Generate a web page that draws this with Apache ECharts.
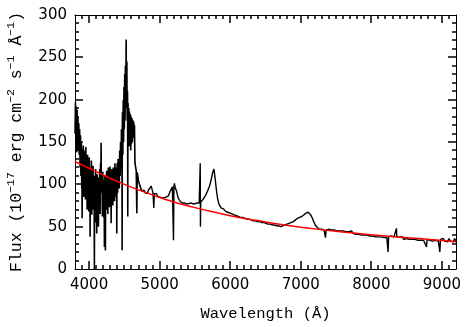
<!DOCTYPE html>
<html><head><meta charset="utf-8">
<script src="https://cdn.jsdelivr.net/npm/echarts@6/dist/echarts.min.js"></script>
<style>html,body{margin:0;padding:0;background:#fff}#c{width:469px;height:327px}</style>
</head><body><div id="c"></div>
<script>
// axis ranges and tick values
const xRange = [3800, 9200];
const yRange = [0, 300];
const xMajorTicks = [4000, 5000, 6000, 7000, 8000, 9000];
const xMinorTicks = [3900, 4100, 4200, 4300, 4400, 4500, 4600, 4700, 4800, 4900, 5100, 5200, 5300, 5400, 5500, 5600, 5700, 5800, 5900, 6100, 6200, 6300, 6400, 6500, 6600, 6700, 6800, 6900, 7100, 7200, 7300, 7400, 7500, 7600, 7700, 7800, 7900, 8100, 8200, 8300, 8400, 8500, 8600, 8700, 8800, 8900, 9100];
const yMajorTicks = [50, 100, 150, 200, 250];
const yMinorTicks = [10, 20, 30, 40, 60, 70, 80, 90, 110, 120, 130, 140, 160, 170, 180, 190, 210, 220, 230, 240, 260, 270, 280, 290];

// observed spectrum [wavelength Å, flux] — blue, noisy part
const specBlue = [[3800,160],[3806,197],[3812,150],[3818,192],[3824,138],[3830,188],[3836,145],[3842,180],[3848,140],[3854,172],[3860,135],[3866,165],[3872,120],[3878,158],[3884,110],[3890,150],[3896,95],[3901,60],[3906,142],[3912,98],[3918,146],[3924,85],[3930,138],[3936,100],[3942,140],[3948,82],[3954,144],[3960,92],[3966,130],[3972,70],[3978,135],[3984,96],[3990,125],[3996,68],[4002,132],[4008,88],[4014,38],[4020,120],[4026,75],[4032,128],[4038,64],[4044,115],[4050,90],[4056,122],[4062,70],[4068,110],[4075,0],[4080,105],[4086,55],[4092,118],[4098,62],[4104,100],[4108,42],[4114,112],[4120,70],[4126,95],[4132,50],[4138,108],[4144,80],[4150,118],[4156,65],[4162,125],[4170,149],[4176,90],[4182,110],[4188,62],[4194,115],[4200,75],[4206,105],[4211,60],[4217,26],[4222,110],[4231,22],[4236,100],[4242,70],[4248,116],[4254,78],[4260,110],[4266,65],[4272,120],[4278,90],[4284,115],[4290,73],[4296,121],[4302,85],[4308,110],[4312,54],[4318,118],[4324,90],[4330,112],[4336,75],[4342,120],[4348,95],[4354,115],[4360,80],[4366,125],[4372,95],[4378,120],[4384,85],[4390,118],[4392,42],[4398,125],[4404,90],[4410,130],[4416,100],[4422,128],[4428,95],[4434,140],[4440,110],[4446,150],[4452,115],[4458,165],[4463,125],[4468,22],[4473,185],[4478,135],[4484,200],[4489,150],[4494,215],[4499,165],[4504,230],[4509,175],[4514,240],[4519,190],[4525,271],[4530,205],[4535,245],[4540,175],[4544,210],[4548,62],[4552,196],[4557,150],[4562,190],[4567,145],[4572,186],[4578,150],[4584,183],[4590,140],[4596,180],[4602,148],[4608,178],[4614,150],[4620,176],[4626,155],[4632,174],[4638,160],[4643,170],[4650,125],[4660,120],[4668,116],[4676,66],[4682,114],[4690,110],[4700,104],[4714,100],[4726,97],[4738,94],[4750,92]];

// extra samples read inside the dense blue band
const specBlueFill = [[3803,175],[3809,182],[3815,165],[3821,170],[3827,160],[3833,150],[3839,168],[3845,152],[3851,160],[3857,148],[3863,150],[3869,140],[3875,135],[3881,130],[3887,125],[3893,132],[3899,110],[3904,120],[3909,115],[3915,122],[3921,105],[3927,118],[3933,112],[3939,120],[3945,108],[3951,115],[3957,102],[3963,118],[3969,98],[3975,110],[3981,104],[3987,112],[3993,95],[3999,105],[4005,100],[4011,110],[4017,92],[4023,104],[4029,96],[4035,110],[4041,88],[4047,100],[4053,106],[4059,92],[4065,98],[4071,85],[4077,92],[4083,88],[4089,100],[4095,82],[4101,95],[4106,78],[4111,90],[4117,98],[4123,84],[4129,92],[4135,76],[4141,98],[4147,100],[4153,92],[4159,104],[4165,96],[4173,110],[4179,100],[4185,92],[4191,96],[4197,90],[4203,92],[4209,84],[4214,80],[4220,95],[4226,88],[4234,82],[4239,90],[4245,96],[4251,88],[4257,95],[4263,90],[4269,100],[4275,104],[4281,98],[4287,92],[4293,100],[4299,108],[4305,98],[4310,95],[4315,100],[4321,104],[4327,100],[4333,94],[4339,102],[4345,108],[4351,104],[4357,100],[4363,108],[4369,110],[4375,106],[4381,104],[4387,110],[4395,112],[4401,108],[4407,115],[4413,118],[4419,110],[4425,120],[4431,125],[4437,128],[4443,132],[4449,138],[4455,140],[4461,150],[4466,150],[4470,160],[4476,165],[4481,175],[4487,170],[4492,185],[4497,190],[4502,195],[4507,200],[4512,205],[4517,215],[4522,230],[4527,240],[4532,225],[4537,210],[4542,195],[4546,190],[4550,175],[4555,170],[4560,165],[4565,170],[4570,165],[4575,168],[4581,165],[4587,162],[4593,160],[4599,165],[4605,162],[4611,165],[4617,160],[4623,165],[4629,162],[4635,168],[4641,165]];

// middle part
const specMid = [[4750,92],[4765,91],[4780,93],[4795,90],[4810,92],[4825,89],[4840,93],[4855,91],[4868,95],[4880,98],[4892,94],[4905,90],[4917,72],[4925,89],[4940,87],[4955,89],[4970,86],[4985,88],[5000,85],[5015,87],[5030,84],[5045,86],[5060,84],[5075,86],[5090,85],[5105,87],[5120,86],[5135,89],[5150,92],[5165,94],[5180,97],[5190,99],[5196,34],[5202,98],[5210,101],[5220,96],[5230,98],[5240,92],[5250,88],[5262,84],[5275,82],[5290,80],[5305,79],[5320,78],[5335,77],[5350,78],[5365,76],[5380,77],[5395,75],[5410,77],[5425,76],[5440,78],[5455,76],[5470,77],[5485,75],[5500,77],[5515,76],[5530,78],[5545,77],[5560,78],[5572,79],[5575,125],[5578,50],[5582,79],[5595,80],[5608,81],[5622,83],[5636,85],[5650,87],[5665,89],[5679,92],[5693,95],[5707,98],[5720,102],[5731,106],[5742,110],[5752,114],[5760,116],[5768,118],[5776,114],[5785,108],[5794,101],[5802,95],[5812,88],[5824,82],[5836,78],[5849,75],[5862,73],[5875,72],[5890,70],[5905,71],[5920,69],[5935,68],[5950,69],[5965,67],[5980,68],[5995,66]];

// red part
const specRed = [[6010,67],[6025,65],[6040,66],[6055,64],[6070,65],[6085,63],[6100,64],[6115,62],[6130,63],[6145,61],[6160,63],[6175,61],[6190,62],[6205,60],[6220,61],[6235,59],[6250,61],[6265,59],[6280,60],[6295,58],[6310,59],[6325,57],[6340,59],[6355,57],[6370,58],[6385,56],[6400,58],[6415,56],[6430,57],[6445,55],[6460,57],[6475,55],[6490,56],[6505,54],[6520,56],[6535,53],[6550,55],[6565,53],[6580,55],[6595,52],[6610,54],[6625,52],[6640,54],[6655,51],[6670,53],[6685,51],[6700,53],[6715,50],[6730,52],[6745,51],[6760,53],[6775,52],[6790,54],[6805,53],[6820,55],[6835,54],[6850,56],[6865,55],[6880,57],[6895,56],[6910,58],[6925,58],[6940,60],[6955,60],[6970,61],[6985,61],[7000,63],[7015,62],[7030,64],[7045,64],[7060,65],[7075,66],[7090,66],[7105,67],[7116,67],[7128,65],[7140,64],[7152,62],[7165,60],[7178,57],[7190,55],[7205,52],[7220,50],[7235,49],[7250,48],[7265,47],[7280,48],[7292,46],[7300,47],[7310,45],[7320,47],[7330,46],[7340,45],[7350,37],[7360,46],[7380,45],[7400,47],[7420,45],[7440,46],[7460,44],[7480,46],[7500,44],[7520,45],[7540,43],[7560,45],[7580,43],[7600,45],[7620,43],[7640,44],[7660,42],[7680,44],[7700,42],[7720,45],[7740,42],[7760,44],[7780,41],[7800,43],[7820,41],[7840,43],[7860,40],[7880,42],[7900,40],[7920,42],[7940,40],[7960,41],[7980,39],[8000,41],[8020,39],[8040,41],[8060,38],[8080,40],[8100,38],[8120,40],[8140,38],[8160,39],[8180,37],[8200,39],[8220,37],[8237,20],[8245,38],[8260,37],[8280,39],[8300,37],[8320,38],[8340,36],[8356,48],[8360,38],[8380,36],[8400,38],[8420,36],[8440,38],[8460,35],[8480,37],[8500,36],[8520,38],[8540,35],[8560,37],[8580,35],[8600,37],[8620,35],[8640,37],[8660,34],[8680,36],[8700,34],[8720,36],[8740,34],[8760,36],[8782,26],[8790,35],[8810,36],[8830,34],[8850,36],[8870,33],[8890,35],[8910,34],[8930,36],[8950,33],[8971,20],[8980,35],[9000,34],[9020,36],[9040,33],[9060,35],[9080,32],[9100,36],[9120,33],[9140,35],[9160,32],[9180,36],[9200,33]];

// continuum fit (red curve)
const continuumFit = [[3800,127],[4000,119],[4250,109],[4500,100],[4750,92],[5000,84.5],[5250,78],[5500,72.5],[5750,67.5],[6000,63],[6250,59],[6500,55.5],[6750,52.3],[7000,49.4],[7250,46.8],[7500,44.5],[7750,42.4],[8000,40.4],[8250,38.6],[8500,37],[8750,35.4],[9000,33.8],[9200,32.3]];

const spectrumBlue = specBlue.concat(specBlueFill).sort((a, b) => a[0] - b[0]);
const spectrumRest = specMid.concat(specRed);

// tick items: [x value, y value, length in px]
const MAJOR = 8, MINOR = 4;
const xTickData = xMajorTicks.map(v => [v, yRange[0], MAJOR]).concat(xMinorTicks.map(v => [v, yRange[0], MINOR]));
const yTickData = yMajorTicks.map(v => [xRange[0], v, MAJOR]).concat(yMinorTicks.map(v => [xRange[0], v, MINOR]));

function xTickItem(params, api) {
  const cs = params.coordSys;
  const len = api.value(2);
  const x = Math.round(api.coord([api.value(0), api.value(1)])[0]);
  const yb = cs.y + cs.height, yt = cs.y;
  return {type: 'group', children: [
    {type: 'rect', shape: {x: x - 0.5, y: yb - len, width: 1, height: len}, style: {fill: '#000'}},
    {type: 'rect', shape: {x: x - 0.5, y: yt, width: 1, height: len}, style: {fill: '#000'}}
  ]};
}
function yTickItem(params, api) {
  const cs = params.coordSys;
  const len = api.value(2);
  const y = Math.round(api.coord([api.value(0), api.value(1)])[1]);
  const xl = cs.x, xr = cs.x + cs.width;
  return {type: 'group', children: [
    {type: 'rect', shape: {x: xl, y: y - 0.5, width: len, height: 1}, style: {fill: '#000'}},
    {type: 'rect', shape: {x: xr - len, y: y - 0.5, width: len, height: 1}, style: {fill: '#000'}}
  ]};
}

const mono = 'Liberation Mono';
const blk = () => ({color: '#000', width: 1});

const chart = echarts.init(document.getElementById('c'), null, {renderer: 'canvas'});
chart.setOption({
  animation: false,
  backgroundColor: '#fff',
  grid: {left: 75, right: 13, top: 15, bottom: 58, containLabel: false, outerBoundsMode: 'none'},
  xAxis: [
    {type: 'value', position: 'bottom', min: xRange[0], max: xRange[1],
     axisLine: {show: true, onZero: false, lineStyle: blk()},
     axisTick: {show: false},
     axisLabel: {show: true, margin: 9, fontFamily: 'DejaVu Sans', fontSize: 15, color: '#000',
                 customValues: xMajorTicks, formatter: v => String(v)},
     splitLine: {show: false},
     name: 'Wavelength (Å)', nameLocation: 'middle', nameGap: 37,
     nameTextStyle: {fontFamily: mono, fontSize: 15.5, color: '#000'}},
    {type: 'value', position: 'top', min: xRange[0], max: xRange[1],
     axisLine: {show: true, onZero: false, lineStyle: blk()},
     axisTick: {show: false}, axisLabel: {show: false}, splitLine: {show: false}}
  ],
  yAxis: [
    {type: 'value', position: 'left', min: yRange[0], max: yRange[1], interval: 50,
     axisLine: {show: true, onZero: false, lineStyle: blk()},
     axisTick: {show: false},
     axisLabel: {margin: 8, fontFamily: 'DejaVu Sans', fontSize: 15, color: '#000'},
     splitLine: {show: false},
     name: '{a|Flux (10}{b|−17}{a| erg cm}{b|−2}{a| s}{b|−1}{a| Å}{b|−1}{a|)}',
     nameLocation: 'middle', nameGap: 50, nameRotate: 90,
     nameTextStyle: {rich: {
       a: {fontFamily: mono, fontSize: 16.5, color: '#000', lineHeight: 20, verticalAlign: 'bottom'},
       b: {fontFamily: mono, fontSize: 11.5, color: '#000', lineHeight: 12, verticalAlign: 'top'}
     }}},
    {type: 'value', position: 'right', min: yRange[0], max: yRange[1], interval: 50,
     axisLine: {show: true, onZero: false, lineStyle: blk()},
     axisTick: {show: false}, axisLabel: {show: false}, splitLine: {show: false}}
  ],
  series: [
    {type: 'line', xAxisIndex: 0, yAxisIndex: 0, data: spectrumBlue, showSymbol: false, symbol: 'none',
     sampling: 'minmax', lineStyle: {color: '#000', width: 1.6}, clip: true, z: 2},
    {type: 'line', xAxisIndex: 0, yAxisIndex: 0, data: spectrumRest, showSymbol: false, symbol: 'none',
     sampling: 'minmax', lineStyle: {color: '#000', width: 1.4}, clip: true, z: 2},
    {type: 'line', xAxisIndex: 0, yAxisIndex: 0, data: continuumFit, showSymbol: false, symbol: 'none',
     smooth: 0.3, lineStyle: {color: '#ff0000', width: 1.5}, clip: true, z: 3},
    {type: 'custom', xAxisIndex: 0, yAxisIndex: 0, data: xTickData, renderItem: xTickItem,
     encode: {x: 0, y: 1}, clip: false, silent: true, z: 10},
    {type: 'custom', xAxisIndex: 0, yAxisIndex: 0, data: yTickData, renderItem: yTickItem,
     encode: {x: 0, y: 1}, clip: false, silent: true, z: 10}
  ]
});

// same tick marks again as graphic rects, positioned through the axis scales
const px = v => chart.convertToPixel({xAxisIndex: 0}, v);
const py = v => chart.convertToPixel({yAxisIndex: 0}, v);
const xl = px(xRange[0]), xr = px(xRange[1]);
const yb = py(yRange[0]), yt = py(yRange[1]);
const ticks = [];
const box = (x, y, width, height) => ticks.push({type: 'rect', silent: true, z: 60,
  shape: {x, y, width, height}, style: {fill: '#000'}});
if (isFinite(xl) && isFinite(yb)) {
  xTickData.forEach(([v, , len]) => {
    const x = Math.round(px(v)) - 0.5;
    box(x, yb - len, 1, len);
    box(x, yt, 1, len);
  });
  yTickData.forEach(([, v, len]) => {
    const y = Math.round(py(v)) - 0.5;
    box(xl, y, len, 1);
    box(xr - len, y, len, 1);
  });
  chart.setOption({graphic: {elements: ticks}});
}
</script></body></html>
